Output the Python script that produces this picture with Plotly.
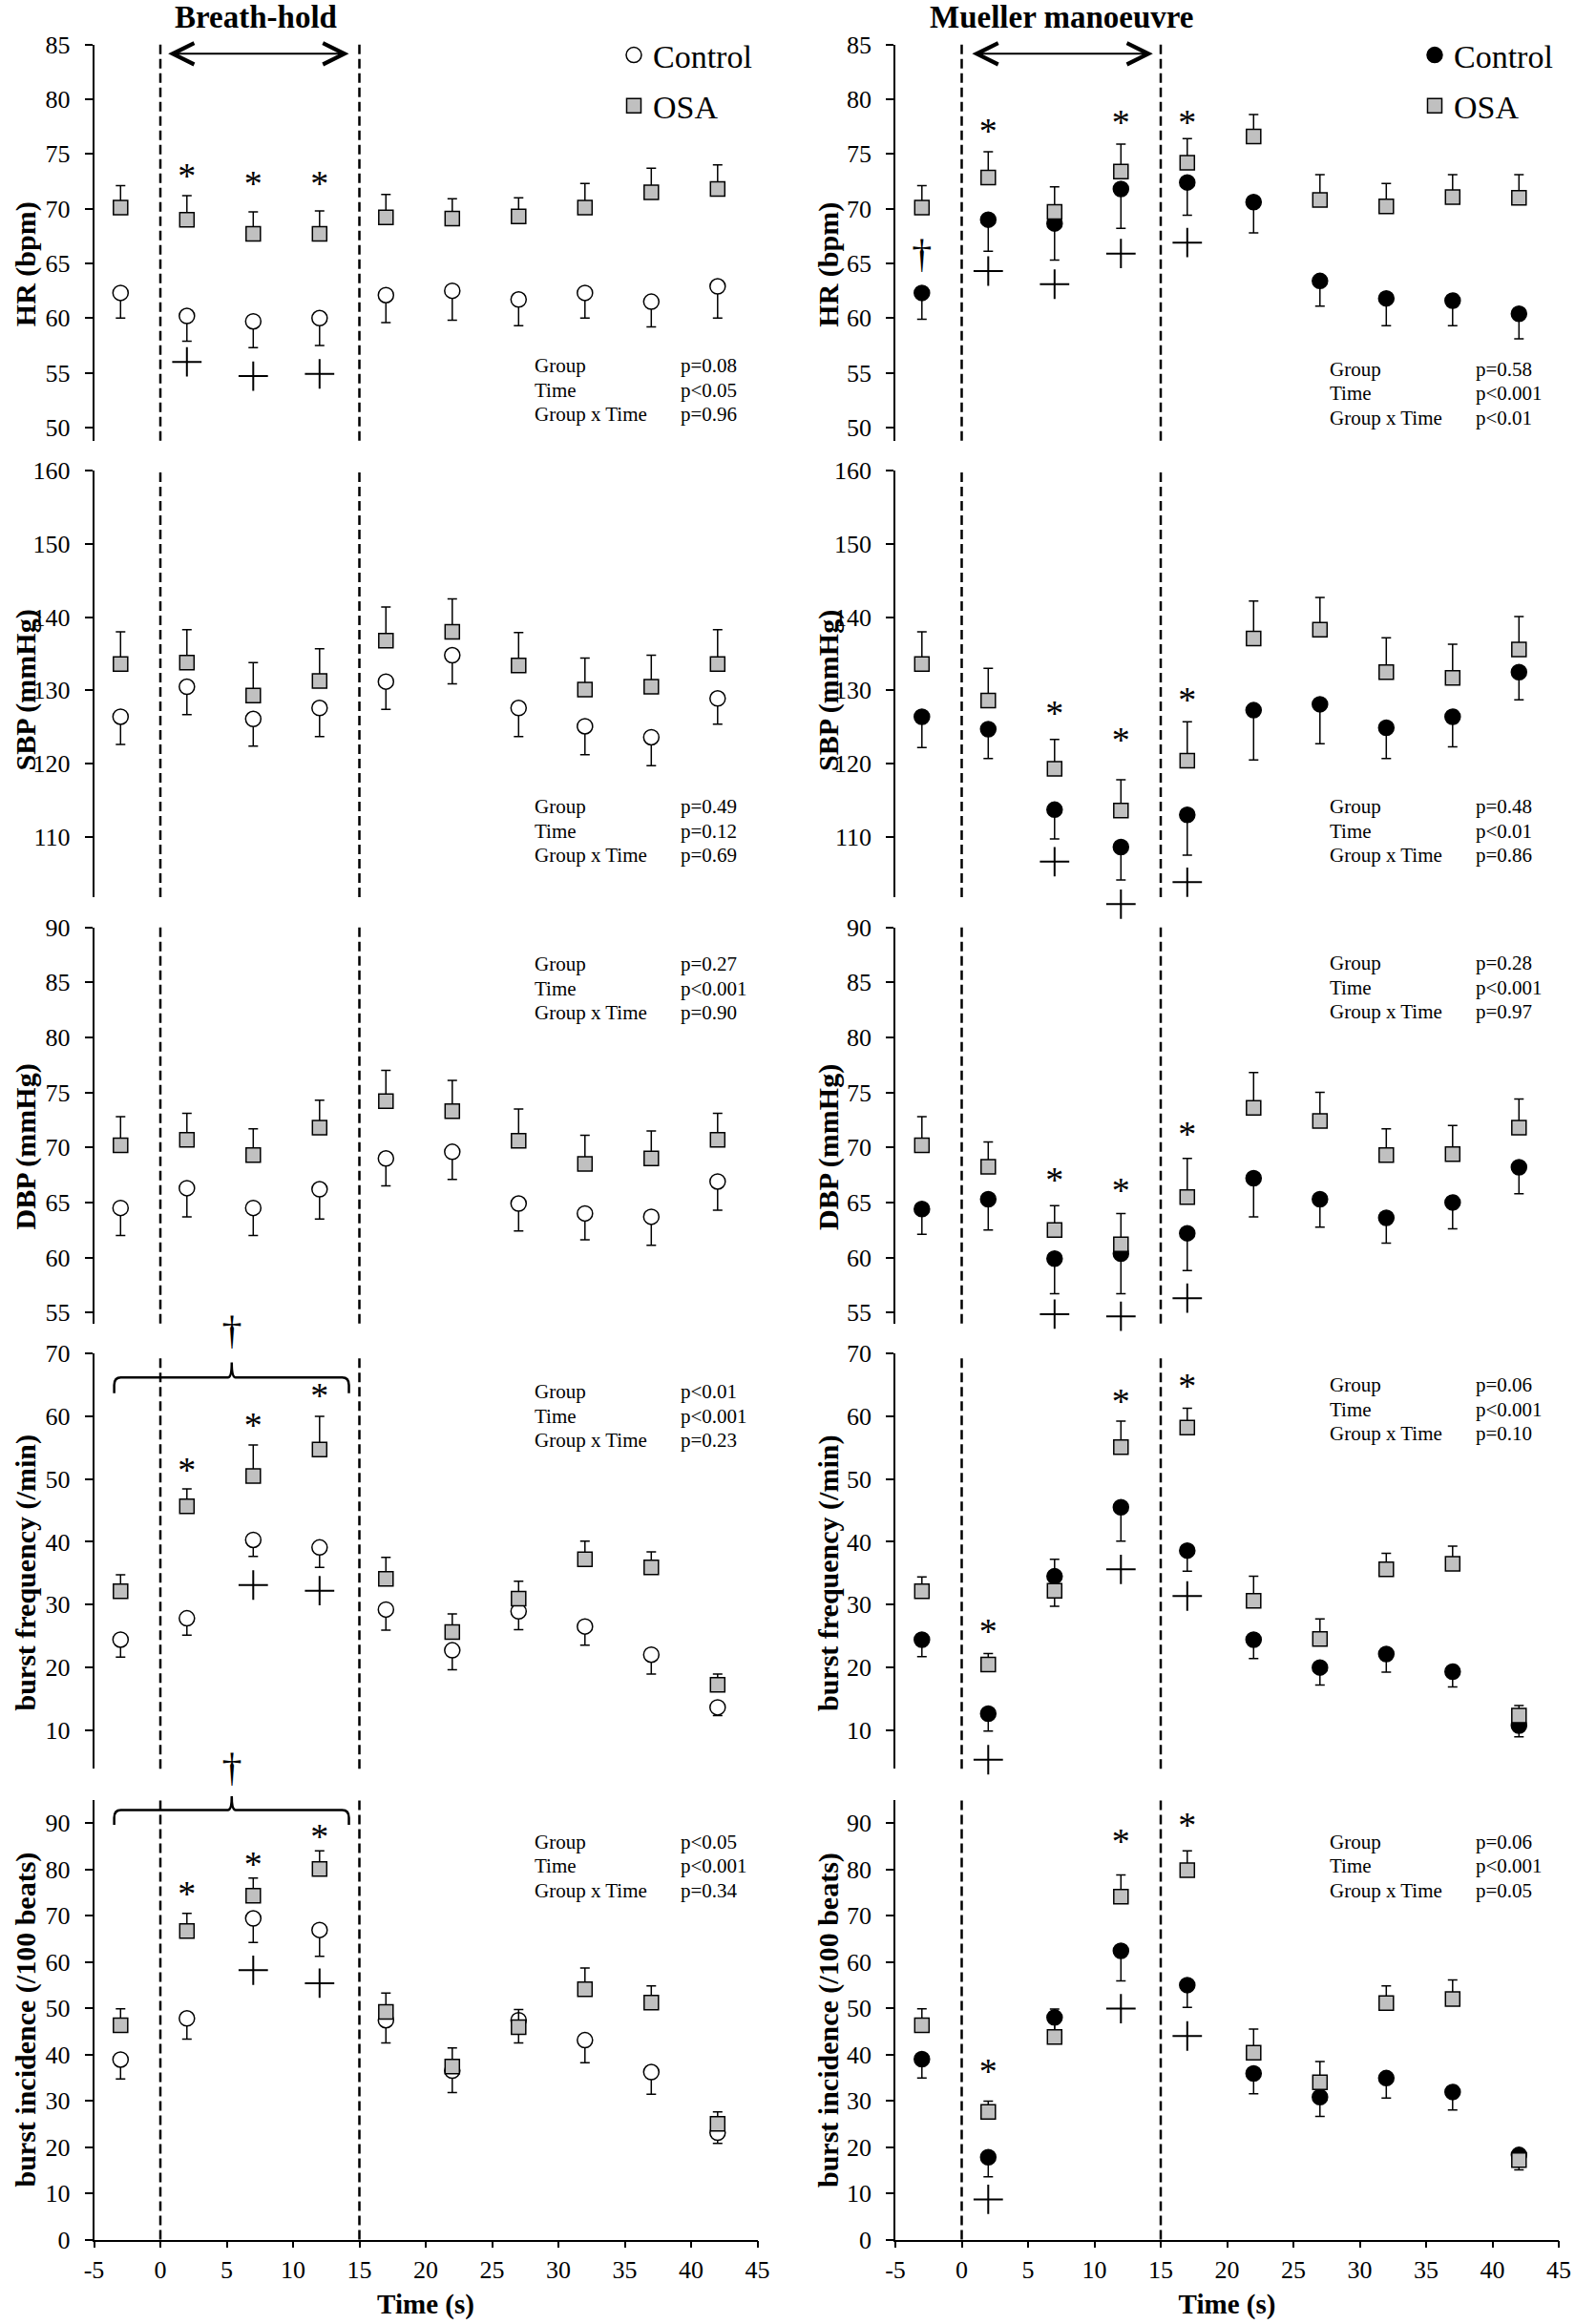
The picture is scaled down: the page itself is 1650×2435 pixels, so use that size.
import plotly.graph_objects as go
from plotly.subplots import make_subplots

W, H = 1650, 2435
FONT = "Liberation Serif, Times New Roman, serif"

time_s = [-3, 2, 7, 12, 17, 22, 27, 32, 37, 42]
x_tick_vals = [-5, 0, 5, 10, 15, 20, 25, 30, 35, 40, 45]
x_tick_text = ["-5", "0", "5", "10", "15", "20", "25", "30", "35", "40", "45"]

# ---- HR (bpm)
hr_bh_ctrl = [62.3, 60.2, 59.7, 60.0, 62.1, 62.5, 61.7, 62.3, 61.5, 62.9]
hr_bh_ctrl_se = [2.3, 2.3, 2.4, 2.5, 2.5, 2.7, 2.4, 2.3, 2.3, 2.9]
hr_bh_osa = [70.1, 69.0, 67.7, 67.7, 69.2, 69.1, 69.3, 70.1, 71.5, 71.8]
hr_bh_osa_se = [2.0, 2.2, 2.0, 2.1, 2.1, 1.8, 1.7, 2.2, 2.2, 2.2]
hr_mm_ctrl = [62.3, 69.0, 68.65, 71.8, 72.4, 70.6, 63.4, 61.8, 61.6, 60.4]
hr_mm_ctrl_se = [2.4, 2.9, 3.35, 3.6, 3.0, 2.8, 2.3, 2.5, 2.3, 2.3]
hr_mm_osa = [70.1, 72.85, 69.7, 73.4, 74.2, 76.6, 70.8, 70.2, 71.05, 71.0]
hr_mm_osa_se = [2.0, 2.35, 2.3, 2.5, 2.2, 2.0, 2.3, 2.1, 2.05, 2.1]

# ---- SBP (mmHg)
sbp_bh_ctrl = [126.4, 130.5, 126.1, 127.6, 131.2, 134.8, 127.6, 125.1, 123.6, 128.9]
sbp_bh_ctrl_se = [3.8, 3.8, 3.7, 3.9, 3.8, 3.9, 3.9, 3.9, 3.9, 3.5]
sbp_bh_osa = [133.6, 133.8, 129.3, 131.3, 136.8, 138.0, 133.4, 130.1, 130.5, 133.6]
sbp_bh_osa_se = [4.4, 4.5, 4.5, 4.4, 4.6, 4.5, 4.5, 4.3, 4.3, 4.7]
sbp_mm_ctrl = [126.4, 124.7, 113.7, 108.6, 113.0, 127.3, 128.1, 124.9, 126.4, 132.5]
sbp_mm_ctrl_se = [4.2, 4.0, 4.0, 4.5, 5.5, 6.8, 5.4, 4.2, 4.1, 3.8]
sbp_mm_osa = [133.6, 128.6, 119.3, 113.6, 120.4, 137.1, 138.3, 132.5, 131.7, 135.6]
sbp_mm_osa_se = [4.4, 4.4, 4.0, 4.2, 5.3, 5.1, 4.4, 4.7, 4.6, 4.5]

# ---- DBP (mmHg)
dbp_bh_ctrl = [64.5, 66.3, 64.5, 66.2, 69.0, 69.6, 64.9, 64.0, 63.7, 66.9]
dbp_bh_ctrl_se = [2.5, 2.6, 2.5, 2.7, 2.5, 2.5, 2.5, 2.4, 2.6, 2.6]
dbp_bh_osa = [70.2, 70.7, 69.3, 71.8, 74.2, 73.3, 70.6, 68.5, 69.0, 70.7]
dbp_bh_osa_se = [2.6, 2.4, 2.4, 2.5, 2.8, 2.8, 2.9, 2.6, 2.5, 2.4]
dbp_mm_ctrl = [64.4, 65.3, 59.9, 60.35, 62.2, 67.2, 65.3, 63.6, 65.0, 68.2]
dbp_mm_ctrl_se = [2.3, 2.8, 3.2, 3.65, 3.4, 3.5, 2.55, 2.3, 2.4, 2.4]
dbp_mm_osa = [70.2, 68.25, 62.5, 61.2, 65.5, 73.6, 72.4, 69.3, 69.4, 71.8]
dbp_mm_osa_se = [2.6, 2.25, 2.2, 2.8, 3.5, 3.2, 2.6, 2.4, 2.6, 2.6]

# ---- burst frequency (/min)
bf_bh_ctrl = [24.4, 27.8, 40.3, 39.1, 29.2, 22.7, 28.9, 26.5, 22.0, 13.6]
bf_bh_ctrl_se = [2.8, 2.7, 2.65, 3.2, 3.3, 3.1, 2.9, 3.0, 3.1, 1.3]
bf_bh_osa = [32.1, 45.65, 50.5, 54.7, 34.1, 25.6, 30.95, 37.2, 35.9, 17.2]
bf_bh_osa_se = [2.65, 2.8, 4.95, 5.3, 3.4, 2.9, 2.75, 2.9, 2.5, 1.7]
bf_mm_ctrl = [24.4, 12.6, 34.5, 45.5, 38.6, 24.4, 19.95, 22.1, 19.3, 10.7]
bf_mm_ctrl_se = [2.7, 2.8, 4.8, 5.4, 3.3, 3.0, 2.8, 2.9, 2.45, 1.8]
bf_mm_osa = [32.1, 20.45, 32.2, 55.1, 58.2, 30.6, 24.5, 35.6, 36.5, 12.3]
bf_mm_osa_se = [2.3, 1.75, 5.0, 4.15, 3.1, 3.9, 3.2, 2.55, 2.8, 1.6]

# ---- burst incidence (/100 beats)
bi_bh_ctrl = [38.9, 47.8, 69.4, 66.9, 47.4, 36.5, 47.4, 43.1, 36.2, 23.1]
bi_bh_ctrl_se = [4.2, 4.5, 5.2, 5.7, 4.9, 4.7, 4.9, 4.9, 4.8, 2.3]
bi_bh_osa = [46.3, 66.7, 74.3, 80.1, 49.2, 37.4, 45.9, 54.1, 51.2, 25.0]
bi_bh_osa_se = [3.55, 3.8, 3.8, 3.9, 4.1, 4.0, 3.8, 4.6, 3.6, 2.6]
bi_mm_ctrl = [39.0, 17.8, 48.0, 62.4, 55.0, 35.9, 30.8, 34.9, 31.9, 18.3]
bi_mm_ctrl_se = [4.1, 4.2, 3.6, 6.5, 4.8, 4.4, 4.2, 4.3, 3.9, 3.2]
bi_mm_osa = [46.3, 27.6, 43.8, 74.1, 79.8, 40.4, 34.0, 51.1, 52.0, 17.2]
bi_mm_osa_se = [3.55, 2.3, 6.0, 4.7, 4.2, 5.1, 4.5, 3.7, 4.1, 1.3]

# ---- significance marks (* OSA vs control, + vs baseline, † group effect)
star_x = {"hr_bh": [2, 7, 12], "hr_mm": [2, 12, 17], "sbp_mm": [7, 12, 17],
          "dbp_mm": [7, 12, 17], "bf_bh": [2, 7, 12], "bf_mm": [2, 12, 17],
          "bi_bh": [2, 7, 12], "bi_mm": [2, 12, 17]}
star_y = {"hr_bh": [72.7, 72.0, 72.0], "hr_mm": [76.8, 77.6, 77.6], "sbp_mm": [126.4, 122.8, 128.3],
          "dbp_mm": [66.8, 65.85, 70.9], "bf_bh": [51.0, 58.1, 62.75], "bf_mm": [25.2, 61.9, 64.4],
          "bi_bh": [74.1, 80.5, 86.5], "bi_mm": [35.7, 85.4, 89.0]}
plus_x = {"hr_bh": [2, 7, 12], "hr_mm": [2, 7, 12, 17], "sbp_mm": [7, 12, 17],
          "dbp_mm": [7, 12, 17], "bf_bh": [7, 12], "bf_mm": [2, 12, 17],
          "bi_bh": [7, 12], "bi_mm": [2, 12, 17]}
plus_y = {"hr_bh": [56.0, 54.7, 54.9], "hr_mm": [64.3, 63.1, 65.9, 66.9], "sbp_mm": [106.6, 100.8, 103.8],
          "dbp_mm": [54.85, 54.65, 56.3], "bf_bh": [33.1, 32.2], "bf_mm": [5.25, 35.6, 31.35],
          "bi_bh": [58.2, 55.4], "bi_mm": [8.7, 49.9, 44.0]}
dagger_x = {"hr_mm": [-3], "bf_bh": [5.4], "bi_bh": [5.4]}
dagger_y = {"hr_mm": [65.6], "bf_bh": [73.2], "bi_bh": [101.2]}

stat_labels = ["Group", "Time", "Group x Time"]
stat_p = {"hr_bh": ["p=0.08", "p<0.05", "p=0.96"], "hr_mm": ["p=0.58", "p<0.001", "p<0.01"],
          "sbp_bh": ["p=0.49", "p=0.12", "p=0.69"], "sbp_mm": ["p=0.48", "p<0.01", "p=0.86"],
          "dbp_bh": ["p=0.27", "p<0.001", "p=0.90"], "dbp_mm": ["p=0.28", "p<0.001", "p=0.97"],
          "bf_bh": ["p<0.01", "p<0.001", "p=0.23"], "bf_mm": ["p=0.06", "p<0.001", "p=0.10"],
          "bi_bh": ["p<0.05", "p<0.001", "p=0.34"], "bi_mm": ["p=0.06", "p<0.001", "p=0.05"]}

row_titles = ["HR (bpm)", "SBP (mmHg)", "DBP (mmHg)", "burst frequency (/min)", "burst incidence (/100 beats)"]
col_titles = ["Breath-hold", "Mueller manoeuvre"]
row_keys = ["hr", "sbp", "dbp", "bf", "bi"]
col_keys = ["bh", "mm"]

data = {
    "hr_bh": (hr_bh_ctrl, hr_bh_ctrl_se, hr_bh_osa, hr_bh_osa_se),
    "hr_mm": (hr_mm_ctrl, hr_mm_ctrl_se, hr_mm_osa, hr_mm_osa_se),
    "sbp_bh": (sbp_bh_ctrl, sbp_bh_ctrl_se, sbp_bh_osa, sbp_bh_osa_se),
    "sbp_mm": (sbp_mm_ctrl, sbp_mm_ctrl_se, sbp_mm_osa, sbp_mm_osa_se),
    "dbp_bh": (dbp_bh_ctrl, dbp_bh_ctrl_se, dbp_bh_osa, dbp_bh_osa_se),
    "dbp_mm": (dbp_mm_ctrl, dbp_mm_ctrl_se, dbp_mm_osa, dbp_mm_osa_se),
    "bf_bh": (bf_bh_ctrl, bf_bh_ctrl_se, bf_bh_osa, bf_bh_osa_se),
    "bf_mm": (bf_mm_ctrl, bf_mm_ctrl_se, bf_mm_osa, bf_mm_osa_se),
    "bi_bh": (bi_bh_ctrl, bi_bh_ctrl_se, bi_bh_osa, bi_bh_osa_se),
    "bi_mm": (bi_mm_ctrl, bi_mm_ctrl_se, bi_mm_osa, bi_mm_osa_se),
}

# layout geometry (pixels)
col_px = [(98.5, 793.5), (938, 1633)]
row_px = [(46.7, 461.7), (493.3, 940), (971.7, 1386.7), (1418.3, 1853.3), (1886.4, 2346.6)]
y_ranges = [[48.8, 85], [101.75, 160], [54, 90], [3.8, 70], [0, 94.9]]
y_dticks = [5, 10, 5, 10, 10]
x_range = [-5, 45]
title_cy = [276.7, 723, 1202, 1648, 2116]
title_cx = [26.5, 868]
stat_first = [[383, 386.7], [845, 845], [1010, 1009], [1458, 1451], [1929.7, 1929.7]]
stat_step = 25.5
stat_x = [(557.7, 711.4), (1391, 1544.3)]
mark_pad = 60  # extra room (px) so marks just outside an axis range still show


def px_x(col, v):
    l, r = col_px[col]
    return l + (v - x_range[0]) / (x_range[1] - x_range[0]) * (r - l)


def px_y(row, v):
    t, b = row_px[row]
    r0, r1 = y_ranges[row]
    return b - (v - r0) / (r1 - r0) * (b - t)


def pp(x, y):
    return f"{x / W:.5f},{1 - y / H:.5f}"


fig = make_subplots(rows=5, cols=2)

ctrl_marker = [dict(symbol="circle", size=16, color="white", line=dict(color="black", width=1.5)),
               dict(symbol="circle", size=16, color="black", line=dict(color="black", width=1.5))]
osa_marker = dict(symbol="square", size=15, color="#c0c0c0", line=dict(color="black", width=1.5))
zeros = [0] * len(time_s)
axis_font = dict(family=FONT, size=26, color="black")

for r in range(5):
    for c in range(2):
        key = f"{row_keys[r]}_{col_keys[c]}"
        ctrl, ctrl_se, osa, osa_se = data[key]
        leg = "legend" if c == 0 else "legend2"
        idx = r * 2 + c + 1
        xname = "x" if idx == 1 else f"x{idx}"

        fig.add_trace(go.Scatter(
            x=time_s, y=ctrl, mode="markers", name="Control", marker=ctrl_marker[c],
            error_y=dict(type="data", symmetric=False, array=zeros, arrayminus=ctrl_se,
                         color="black", thickness=1.5, width=5),
            showlegend=(r == 0), legend=leg, legendgroup=f"c{c}", cliponaxis=False
        ), row=r + 1, col=c + 1)
        fig.add_trace(go.Scatter(
            x=time_s, y=osa, mode="markers", name="OSA", marker=osa_marker,
            error_y=dict(type="data", symmetric=False, array=osa_se, arrayminus=zeros,
                         color="black", thickness=1.5, width=5),
            showlegend=(r == 0), legend=leg, legendgroup=f"o{c}", cliponaxis=False
        ), row=r + 1, col=c + 1)

        # hidden twin y axis with the same scale but a taller domain, for the significance marks
        t, b = row_px[r]
        r0, r1 = y_ranges[r]
        ppu = (b - t) / (r1 - r0)
        pad_t, pad_b = min(mark_pad, t), min(mark_pad, H - b)
        mark_y = f"y{idx + 10}"
        fig.update_layout({f"yaxis{idx + 10}": dict(
            domain=[1 - (b + pad_b) / H, 1 - (t - pad_t) / H],
            range=[r0 - pad_b / ppu, r1 + pad_t / ppu],
            anchor=xname, visible=False, showgrid=False, zeroline=False)})

        if key in star_x:
            fig.add_trace(go.Scatter(
                x=star_x[key], y=star_y[key], mode="text", text=["*"] * len(star_x[key]),
                textfont=dict(family=FONT, size=38, color="black"), showlegend=False, cliponaxis=False,
                xaxis=xname, yaxis=mark_y))
        if key in plus_x:
            fig.add_trace(go.Scatter(
                x=plus_x[key], y=plus_y[key], mode="markers",
                marker=dict(symbol="cross-thin", size=22, line=dict(color="black", width=2)),
                showlegend=False, cliponaxis=False, xaxis=xname, yaxis=mark_y))
        if key in dagger_x:
            fig.add_trace(go.Scatter(
                x=dagger_x[key], y=dagger_y[key], mode="text", text=["†"] * len(dagger_x[key]),
                textfont=dict(family=FONT, size=42, color="black"), showlegend=False, cliponaxis=False,
                xaxis=xname, yaxis=mark_y))

        # dashed lines marking the manoeuvre
        for xv in (0, 15):
            fig.add_shape(type="line", xref=xname, yref=f"{xname.replace('x', 'y')} domain",
                          x0=xv, x1=xv, y0=0, y1=1,
                          line=dict(color="black", width=2.5, dash="10px,5px"))
        # statistics
        lx, px_ = stat_x[c]
        for i, lab in enumerate(stat_labels):
            yy = 1 - (stat_first[r][c] + stat_step * i) / H
            fig.add_annotation(x=lx / W, y=yy, xref="paper", yref="paper", text=lab, showarrow=False,
                               xanchor="left", yanchor="middle", font=dict(family=FONT, size=21, color="black"))
            fig.add_annotation(x=px_ / W, y=yy, xref="paper", yref="paper", text=stat_p[key][i],
                               showarrow=False, xanchor="left", yanchor="middle",
                               font=dict(family=FONT, size=21, color="black"))
        # y title
        fig.add_annotation(x=title_cx[c] / W, y=1 - title_cy[r] / H, xref="paper", yref="paper",
                           text=f"<b>{row_titles[r]}</b>", textangle=-90, showarrow=False,
                           xanchor="center", yanchor="middle", font=dict(family=FONT, size=30, color="black"))

        fig.update_xaxes(domain=[col_px[c][0] / W, col_px[c][1] / W], range=x_range,
                         visible=(r == 4), showline=True, linecolor="black", linewidth=1.5,
                         ticks="outside", ticklen=7, tickwidth=1.5, tickcolor="black",
                         tickvals=x_tick_vals, ticktext=x_tick_text,
                         showgrid=False, zeroline=False, automargin=False,
                         ticklabelstandoff=0, ticklabeloverflow="allow", tickfont=axis_font,
                         row=r + 1, col=c + 1)
        fig.update_yaxes(domain=[1 - b / H, 1 - t / H], range=y_ranges[r],
                         showline=True, linecolor="black", linewidth=1.5,
                         ticks="outside", ticklen=8, tickwidth=1.5, tickcolor="black",
                         dtick=y_dticks[r], tick0=0, showgrid=False, zeroline=False, automargin=False,
                         ticklabelstandoff=10, ticklabeloverflow="allow", tickfont=axis_font,
                         row=r + 1, col=c + 1)

# x titles on bottom row
for c in range(2):
    fig.update_xaxes(title=dict(text="<b>Time (s)</b>", font=dict(family=FONT, size=29, color="black"),
                                standoff=12), row=5, col=c + 1)

# column titles and double arrows
for c in range(2):
    cx = [267.5, 1111.8][c]
    fig.add_annotation(x=cx / W, y=1, xref="paper", yref="paper", text=f"<b>{col_titles[c]}</b>",
                       xanchor="center", yanchor="top", yshift=2,
                       showarrow=False, font=dict(family=FONT, size=33, color="black"))
    xname = "x" if c == 0 else "x2"
    yname = "y" if c == 0 else "y2"
    x_start, x_end = [(0.48, 14.21), (0.68, 14.41)][c]
    fig.add_annotation(x=x_end, y=84.16, ax=x_start, ay=84.16, xref=xname, yref=yname, axref=xname, ayref=yname,
                       text="", showarrow=True, arrowhead=5, startarrowhead=5, arrowside="end+start",
                       arrowsize=2.2, startarrowsize=2.2, arrowwidth=2, arrowcolor="black",
                       standoff=0, startstandoff=0)

# curly braces (burst rows, breath-hold)
for r in (3, 4):
    yl, ye, yk = [(66.2, 63.7, 68.6), (92.8, 89.6, 95.8)][r - 3]
    X0, X1, XC = px_x(0, -3.48), px_x(0, 14.21), px_x(0, 5.38)
    YL, YE, YK = px_y(r, yl), px_y(r, ye), px_y(r, yk)
    rx, ry = 7, 8
    path = (f"M{pp(X0, YE)} L{pp(X0, YL + ry)} Q{pp(X0, YL)} {pp(X0 + rx, YL)} "
            f"L{pp(XC - 4, YL)} Q{pp(XC, YL)} {pp(XC, YK)} Q{pp(XC, YL)} {pp(XC + 4, YL)} "
            f"L{pp(X1 - rx, YL)} Q{pp(X1, YL)} {pp(X1, YL + ry)} L{pp(X1, YE)}")
    fig.add_shape(type="path", path=path, xref="paper", yref="paper", line=dict(color="black", width=2.5))

legend_style = dict(xanchor="left", yanchor="top", bgcolor="rgba(0,0,0,0)",
                    font=dict(family=FONT, size=34, color="black"), tracegroupgap=6, itemwidth=30)
fig.update_layout(
    width=W, height=H,
    margin=dict(l=0, r=0, t=0, b=0),
    # transparent plot areas: the taller mark subplots must not paint over the data panels
    plot_bgcolor="rgba(0,0,0,0)", paper_bgcolor="white",
    font=dict(family=FONT, color="black"),
    legend=dict(x=644 / W, y=1 - 29 / H, **legend_style),
    legend2=dict(x=1483 / W, y=1 - 29 / H, **legend_style),
)

# the page body has a default 8px margin; drop it so the figure fills the window exactly
fig.write_html("out.html", config={"displayModeBar": False},
               post_script="document.body.style.margin='0';")
